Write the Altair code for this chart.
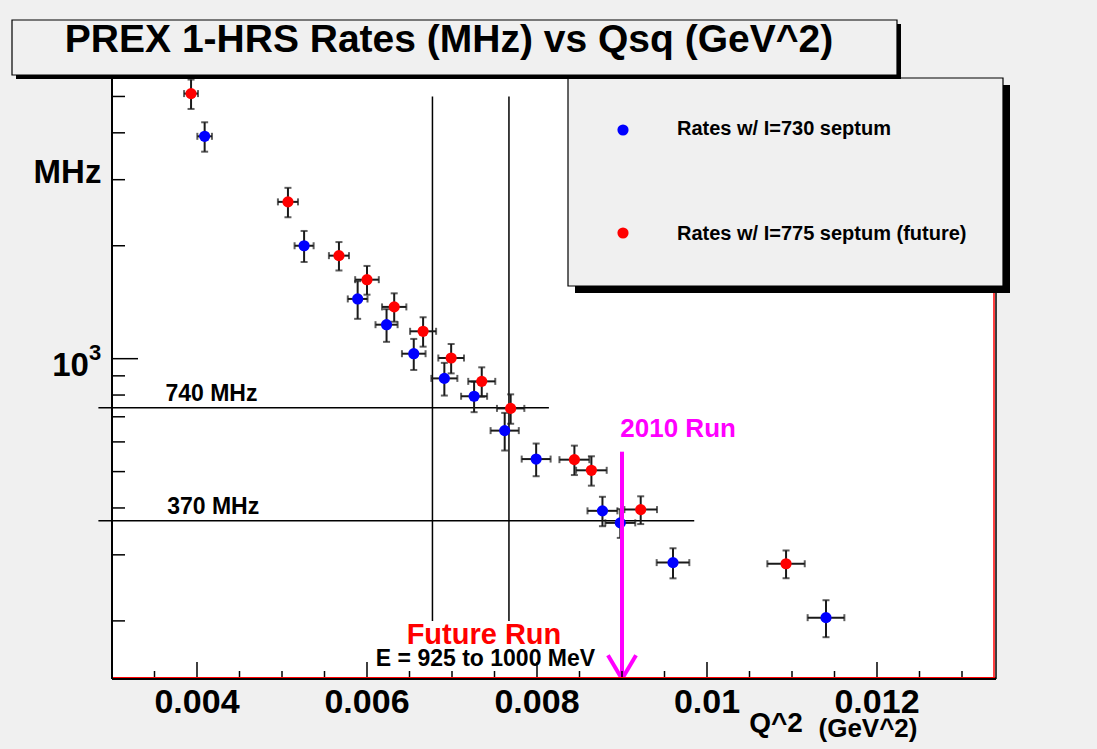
import altair as alt
import pandas as pd

# ---------------- data ----------------
TITLE = "PREX 1-HRS Rates (MHz) vs Qsq (GeV^2)"
series_names = ["Rates w/ I=730 septum", "Rates w/ I=775 septum (future)"]
series_colors = ["#0000ff", "#ff0000"]

blue_q = [0.00409, 0.00526, 0.00589, 0.00623, 0.00655, 0.00691, 0.00726,
          0.00762, 0.00799, 0.00877, 0.00898, 0.00960, 0.01140]
blue_rate = [3915, 2000, 1443, 1232, 1031, 886, 794, 643, 540, 393, 365, 286, 204]
blue_qerr = [0.000086, 0.000112, 0.000116, 0.000130, 0.000139, 0.000153, 0.000153,
             0.000166, 0.000170, 0.000176, 0.000176, 0.000192, 0.000216]
blue_relerr = [0.090, 0.095, 0.115, 0.100, 0.095, 0.100, 0.093,
               0.115, 0.100, 0.090, 0.088, 0.092, 0.113]

red_q = [0.00393, 0.00507, 0.00567, 0.00600, 0.00632, 0.00666, 0.00699,
         0.00735, 0.00769, 0.00844, 0.00864, 0.00922, 0.01093]
red_rate = [5089, 2618, 1882, 1624, 1374, 1183, 1004, 870, 737, 538, 504, 396, 284]
red_qerr = [0.000082, 0.000118, 0.000118, 0.000139, 0.000143, 0.000153, 0.000151,
            0.000159, 0.000161, 0.000176, 0.000180, 0.000192, 0.000220]
red_relerr = [0.090, 0.090, 0.087, 0.088, 0.087, 0.090, 0.090,
              0.090, 0.090, 0.090, 0.090, 0.085, 0.085]

x_major = [0.004, 0.006, 0.008, 0.010, 0.012]
x_major_labels = ["0.004", "0.006", "0.008", "0.01", "0.012"]
x_minor = [0.0035, 0.0045, 0.005, 0.0055, 0.0065, 0.007, 0.0075, 0.0085,
           0.009, 0.0095, 0.0105, 0.011, 0.0115, 0.0125, 0.013]
y_major = [1000]
y_minor = [200, 300, 400, 500, 600, 700, 800, 900, 2000, 3000, 4000, 5000]

limit_values = [740, 370]
limit_labels = ["740 MHz", "370 MHz"]
limit_x_start = [0.00284, 0.00284]
limit_x_end = [0.00814, 0.00985]
limit_label_q = [0.00417, 0.00419]

run_q = [0.00677, 0.00767]
run_lo = [200, 200]
run_hi = [5000, 5000]

arrow_q = 0.009
arrow_top = 565
arrow_bottom = 140
arrow_head_dq = 0.000165
arrow_head_rate = 162

# ---------------- layout ----------------
W, H = 884, 601
FONT = "Liberation Sans"
BG = "#f0f0f0"
PT = 125

xs = alt.Scale(domain=[0.003, 0.0134], nice=False, zero=False)
ys = alt.Scale(type="log", domain=[140, 5600], nice=False)

rows = []
for name, qs, rs, qe, re in [(series_names[0], blue_q, blue_rate, blue_qerr, blue_relerr),
                             (series_names[1], red_q, red_rate, red_qerr, red_relerr)]:
    for q, r, dq, e in zip(qs, rs, qe, re):
        rows.append(dict(series=name, q=q, rate=r, qlo=q - dq, qhi=q + dq,
                         rlo=r * (1 - e), rhi=r * (1 + e)))
df = pd.DataFrame(rows)
dummy = pd.DataFrame({"a": [0]})

X = lambda f: alt.X(f, scale=xs, axis=None)
Y = lambda f: alt.Y(f, scale=ys, axis=None)
ERR = "#1a1a1a"

base = alt.Chart(df)
err_v = base.mark_rule(color=ERR, strokeWidth=2).encode(x=X("q:Q"), y=Y("rlo:Q"), y2="rhi:Q")
err_h = base.mark_rule(color=ERR, strokeWidth=2).encode(x=X("qlo:Q"), x2="qhi:Q", y=Y("rate:Q"))
cap_lo = base.mark_tick(color=ERR, orient="horizontal", size=7, thickness=2).encode(x=X("q:Q"), y=Y("rlo:Q"))
cap_hi = base.mark_tick(color=ERR, orient="horizontal", size=7, thickness=2).encode(x=X("q:Q"), y=Y("rhi:Q"))
cap_l = base.mark_tick(color=ERR, orient="vertical", size=7, thickness=2).encode(x=X("qlo:Q"), y=Y("rate:Q"))
cap_r = base.mark_tick(color=ERR, orient="vertical", size=7, thickness=2).encode(x=X("qhi:Q"), y=Y("rate:Q"))
points = base.mark_circle(size=PT, opacity=1).encode(
    x=X("q:Q"), y=Y("rate:Q"),
    color=alt.Color("series:N", scale=alt.Scale(domain=series_names, range=series_colors), legend=None))

# reference lines
lim_df = pd.DataFrame({"v": limit_values, "lab": limit_labels, "x0": limit_x_start,
                       "x1": limit_x_end, "xl": limit_label_q})
lim_lines = alt.Chart(lim_df).mark_rule(color="black", strokeWidth=1.5).encode(
    x=X("x0:Q"), x2="x1:Q", y=Y("v:Q"))
lim_text = alt.Chart(lim_df).mark_text(font=FONT, fontSize=23, fontWeight="bold", color="black",
                                       align="center", baseline="alphabetic", dy=-7).encode(
    x=X("xl:Q"), y=Y("v:Q"), text="lab:N")

run_df = pd.DataFrame({"q": run_q, "lo": run_lo, "hi": run_hi})
run_lines = alt.Chart(run_df).mark_rule(color="black", strokeWidth=1.5).encode(
    x=X("q:Q"), y=Y("lo:Q"), y2="hi:Q")

arrow_df = pd.DataFrame({"q": [arrow_q], "top": [arrow_top], "bot": [arrow_bottom],
                         "ql": [arrow_q - arrow_head_dq], "qr": [arrow_q + arrow_head_dq],
                         "hr": [arrow_head_rate]})
MAG = "#ff00ff"
arrow_shaft = alt.Chart(arrow_df).mark_rule(color=MAG, strokeWidth=4).encode(
    x=X("q:Q"), y=Y("top:Q"), y2="bot:Q")
arrow_l = alt.Chart(arrow_df).mark_rule(color=MAG, strokeWidth=4).encode(
    x=X("ql:Q"), x2="q:Q", y=Y("hr:Q"), y2="bot:Q")
arrow_r = alt.Chart(arrow_df).mark_rule(color=MAG, strokeWidth=4).encode(
    x=X("qr:Q"), x2="q:Q", y=Y("hr:Q"), y2="bot:Q")


def txt(s, x, y, size, color="black", align="center", weight="bold"):
    return alt.Chart(dummy).mark_text(text=s, font=FONT, fontSize=size, fontWeight=weight,
                                      color=color, align=align, baseline="alphabetic").encode(
        x=alt.value(x), y=alt.value(y))


run2010 = alt.Chart(dummy).mark_text(text="2010 Run", font=FONT, fontSize=26, fontWeight="bold",
                                     color=MAG, baseline="alphabetic").encode(
    x=alt.X(datum=0.00966, scale=xs, axis=None), y=alt.Y(datum=620, scale=ys, axis=None))
future = alt.Chart(dummy).mark_text(text="Future Run", font=FONT, fontSize=29, fontWeight="bold",
                                    color="#ff0000", baseline="alphabetic").encode(
    x=alt.X(datum=0.007376, scale=xs, axis=None), y=alt.Y(datum=174, scale=ys, axis=None))
energy = alt.Chart(dummy).mark_text(text="E = 925 to 1000 MeV", font=FONT, fontSize=23,
                                    fontWeight="bold", color="black", baseline="alphabetic").encode(
    x=alt.X(datum=0.007394, scale=xs, axis=None), y=alt.Y(datum=152, scale=ys, axis=None))

# axes (ROOT style, ticks inside)
xt_major_df = pd.DataFrame({"q": x_major, "lab": x_major_labels})
xt_minor_df = pd.DataFrame({"q": x_minor})
yt_major_df = pd.DataFrame({"v": y_major})
yt_minor_df = pd.DataFrame({"v": y_minor})
x_major_ticks = alt.Chart(xt_major_df).mark_rule(color="black", strokeWidth=1.5).encode(
    x=X("q:Q"), y=alt.value(H), y2=alt.value(H - 17))
x_minor_ticks = alt.Chart(xt_minor_df).mark_rule(color="black", strokeWidth=1.5).encode(
    x=X("q:Q"), y=alt.value(H), y2=alt.value(H - 8))
x_labels = alt.Chart(xt_major_df).mark_text(font=FONT, fontSize=34, fontWeight="bold", color="black",
                                            baseline="alphabetic").encode(
    x=X("q:Q"), y=alt.value(635), text="lab:N")
y_major_ticks = alt.Chart(yt_major_df).mark_rule(color="black", strokeWidth=1.5).encode(
    y=Y("v:Q"), x=alt.value(0), x2=alt.value(26))
y_minor_ticks = alt.Chart(yt_minor_df).mark_rule(color="black", strokeWidth=1.5).encode(
    y=Y("v:Q"), x=alt.value(0), x2=alt.value(13))


def rule(x, x2, y, y2, color="black", w=2):
    return alt.Chart(dummy).mark_rule(color=color, strokeWidth=w).encode(
        x=alt.value(x), x2=alt.value(x2), y=alt.value(y), y2=alt.value(y2))


def rect(x, x2, y, y2, fill, stroke=None, w=1.5):
    kw = dict(fill=fill)
    if stroke:
        kw.update(stroke=stroke, strokeWidth=w)
    return alt.Chart(dummy).mark_rect(**kw).encode(
        x=alt.value(x), x2=alt.value(x2), y=alt.value(y), y2=alt.value(y2))


frame = [
    rule(0, W, H - 1.3, H - 1.3, color="#ff0000", w=1.5),
    rule(W - 2, W - 2, 0, H, color="#ff0000", w=1.5),
    rule(W, W, 0, H, color="black", w=1.5),
    rule(0, W, H, H, color="black", w=2),
    rule(0, 0, 0, H, color="black", w=2),
]

# legend box
legend = [
    rect(463, 898, 7, 215, "black"),
    rect(456, 891, 0, 208, BG, stroke="black", w=1.2),
    alt.Chart(dummy).mark_circle(size=PT, opacity=1, color=series_colors[0]).encode(
        x=alt.value(511), y=alt.value(52)),
    alt.Chart(dummy).mark_circle(size=PT, opacity=1, color=series_colors[1]).encode(
        x=alt.value(511), y=alt.value(155)),
    txt(series_names[0], 565, 57, 20, align="left"),
    txt(series_names[1], 565, 162, 20, align="left"),
]

# title box
title = [
    rect(-96, 789, -54, 1, "black"),
    rect(-100, 785, -58, -3, BG, stroke="black", w=1.2),
    txt(TITLE, 337, -26, 39),
]

axis_text = [
    txt("MHz", -44.5, 105, 33),
    txt("10", -41.5, 298, 33),
    txt("3", -17, 282, 22),
    txt("Q^2", 664, 654, 28),
    txt("(GeV^2)", 756, 659, 26),
]

layers = ([run_lines, lim_lines, lim_text, err_v, err_h, cap_lo, cap_hi, cap_l, cap_r, points,
           arrow_shaft, arrow_l, arrow_r, run2010, future, energy,
           x_major_ticks, x_minor_ticks, x_labels, y_major_ticks, y_minor_ticks]
          + frame + legend + title + axis_text)

chart = alt.layer(*layers).properties(
    width=W, height=H,
    autosize=alt.AutoSizeParams(type="none"),
    padding={"left": 112, "top": 78, "right": 101, "bottom": 70},
    background=BG,
).configure_view(strokeWidth=0, fill="white")

chart.save("out.html", embed_options={"renderer": "svg", "actions": False})
